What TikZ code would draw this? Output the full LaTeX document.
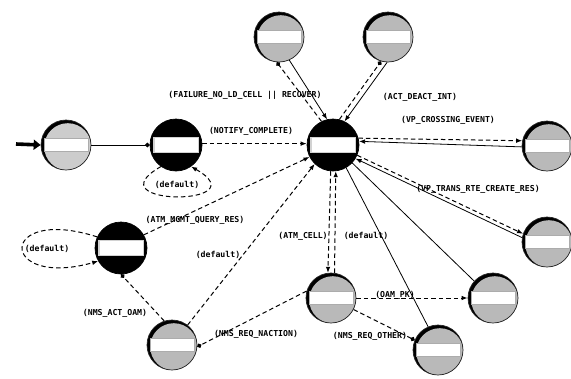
\documentclass[tikz,border=0pt]{standalone}
\usepackage{fontspec}
\newfontfamily\lblfont{DejaVu Sans Mono}
\usetikzlibrary{arrows.meta,calc}
\begin{document}
\begin{tikzpicture}[x=1pt,y=-1pt,
  lbl/.style={font=\lblfont\bfseries\fontsize{8.2}{9}\selectfont, inner sep=0.5pt},
  lightstate/.style={circle, minimum size=50pt, inner sep=0pt, draw=black!85, line width=0.7pt,
    path picture={
      \coordinate (pc) at (path picture bounding box.center);
      \fill[black] (pc) circle (27pt);
      \fill[#1] ($(pc)+(1.8pt,-1.8pt)$) circle (23.6pt);
      \filldraw[fill=white, draw=gray!65, line width=0.7pt]
        ($(pc)+(-22pt,-6.5pt)$) rectangle ($(pc)+(22pt,6.5pt)$);
    }},
  lightstate/.default=gray!55,
  darkstate/.style={circle, minimum size=52pt, inner sep=0pt, fill=black, draw=black, line width=0.7pt,
    path picture={
      \coordinate (pc) at (path picture bounding box.center);
      \fill[gray!35] ($(pc)+(-23pt,-8pt)$) rectangle ($(pc)+(23pt,8pt)$);
      \fill[white] ($(pc)+(-21.5pt,-6.8pt)$) rectangle ($(pc)+(21.5pt,6.8pt)$);
    }},
  trans/.style={line width=0.8pt, black},
  dtrans/.style={trans, dash pattern=on 4.5pt off 3pt, line width=1pt},
  arr/.style={-{Latex[length=6pt,width=4.6pt]}},
  dotend/.style={-{Circle[length=4.5pt]}},
  startarrow/.style={line width=3.6pt, -{Triangle[length=7pt,width=10pt]}}
]
\useasboundingbox (0,0) rectangle (571,378);

% states
\node[lightstate=gray!40] (s0)   at (66,145)  {};
\node[darkstate]          (init) at (176,145) {};
\node[darkstate]          (hub)  at (333,145) {};
\node[lightstate]         (top1) at (279,37)  {};
\node[lightstate]         (top2) at (388,37)  {};
\node[lightstate]         (vp)   at (547,146) {};
\node[lightstate]         (lr)   at (547,242) {};
\node[darkstate]          (left) at (121,248) {};
\node[lightstate]         (bl)   at (172,345) {};
\node[lightstate]         (mid)  at (331,298) {};
\node[lightstate]         (rm)   at (493,298) {};
\node[lightstate]         (br)   at (438,350) {};

% initial transition
\coordinate (start) at (16,144);
\draw[startarrow] (start) -- (s0.west);
\draw[trans, dotend] (s0.east) -- (init.west);

% transitions into the hub
\draw[dtrans, arr] (init.3) -- (hub.177);
\draw[dtrans, arr] (left.30) -- (hub.207);
\draw[dtrans, arr] (bl.52) -- (hub.226);

% self loops
\draw[dtrans, arr] (init.-125) .. controls +(-70,40) and +(70,40) .. (init.-55);
\draw[dtrans, arr] (left.155) .. controls +(-100,-32) and +(-100,28) .. (left.-150);

% hub and the upper states
\draw[dtrans, dotend] (hub.116) -- (top1.-95);
\draw[trans, arr] (top1.-66) -- (hub.103);
\draw[dtrans, dotend] (hub.76) -- (top2.-106);
\draw[trans, arr] (top2.-92) -- (hub.64);

% hub and the right-hand states
\draw[dtrans, arr] (hub.15) -- (vp.168);
\draw[trans, arr] (vp.-178) -- (hub.8);
\draw[dtrans, arr] (hub.-23) -- (lr.161);
\draw[trans, arr] (lr.170) -- (hub.-31);
\draw[trans] (hub.-60) -- (br.113);
\draw[trans] (hub.-43) -- (rm.138);

% hub and the lower middle state
\draw[dtrans, arr] (hub.-95) -- (mid.97);
\draw[dtrans, arr] (mid.82) -- (hub.-84);

% lower transitions
\draw[dtrans, dotend] (bl.108) -- (left.-90);
\draw[dtrans, dotend] (mid.164) -- (bl.-4);
\draw[dtrans, arr] (mid.0) -- (rm.180);
\draw[dtrans, dotend] (mid.-27) -- (br.157);

% transition labels
\node[lbl] (lfail)   at (245,95)  {(FAILURE\_NO\_LD\_CELL || RECOVER)};
\node[lbl] (lact)    at (420,97)  {(ACT\_DEACT\_INT)};
\node[lbl] (lnotify) at (251,131) {(NOTIFY\_COMPLETE)};
\node[lbl] (lvpc)    at (448,120) {(VP\_CROSSING\_EVENT)};
\node[lbl] (lvpt)    at (478,189) {(VP\_TRANS\_RTE\_CREATE\_RES)};
\node[lbl] (lquery)  at (195,220) {(ATM\_MGMT\_QUERY\_RES)};
\node[lbl] (ldefa)   at (177,185) {(default)};
\node[lbl] (ldefb)   at (47,249)  {(default)};
\node[lbl] (ldefc)   at (218,255) {(default)};
\node[lbl] (lcell)   at (303,236) {(ATM\_CELL)};
\node[lbl] (ldefd)   at (366,236) {(default)};
\node[lbl] (loam)    at (115,313) {(NMS\_ACT\_OAM)};
\node[lbl] (lnact)   at (256,334) {(NMS\_REQ\_NACTION)};
\node[lbl] (lpk)     at (395,295) {(OAM\_PK)};
\node[lbl] (lother)  at (370,336) {(NMS\_REQ\_OTHER)};
\end{tikzpicture}
\end{document}
